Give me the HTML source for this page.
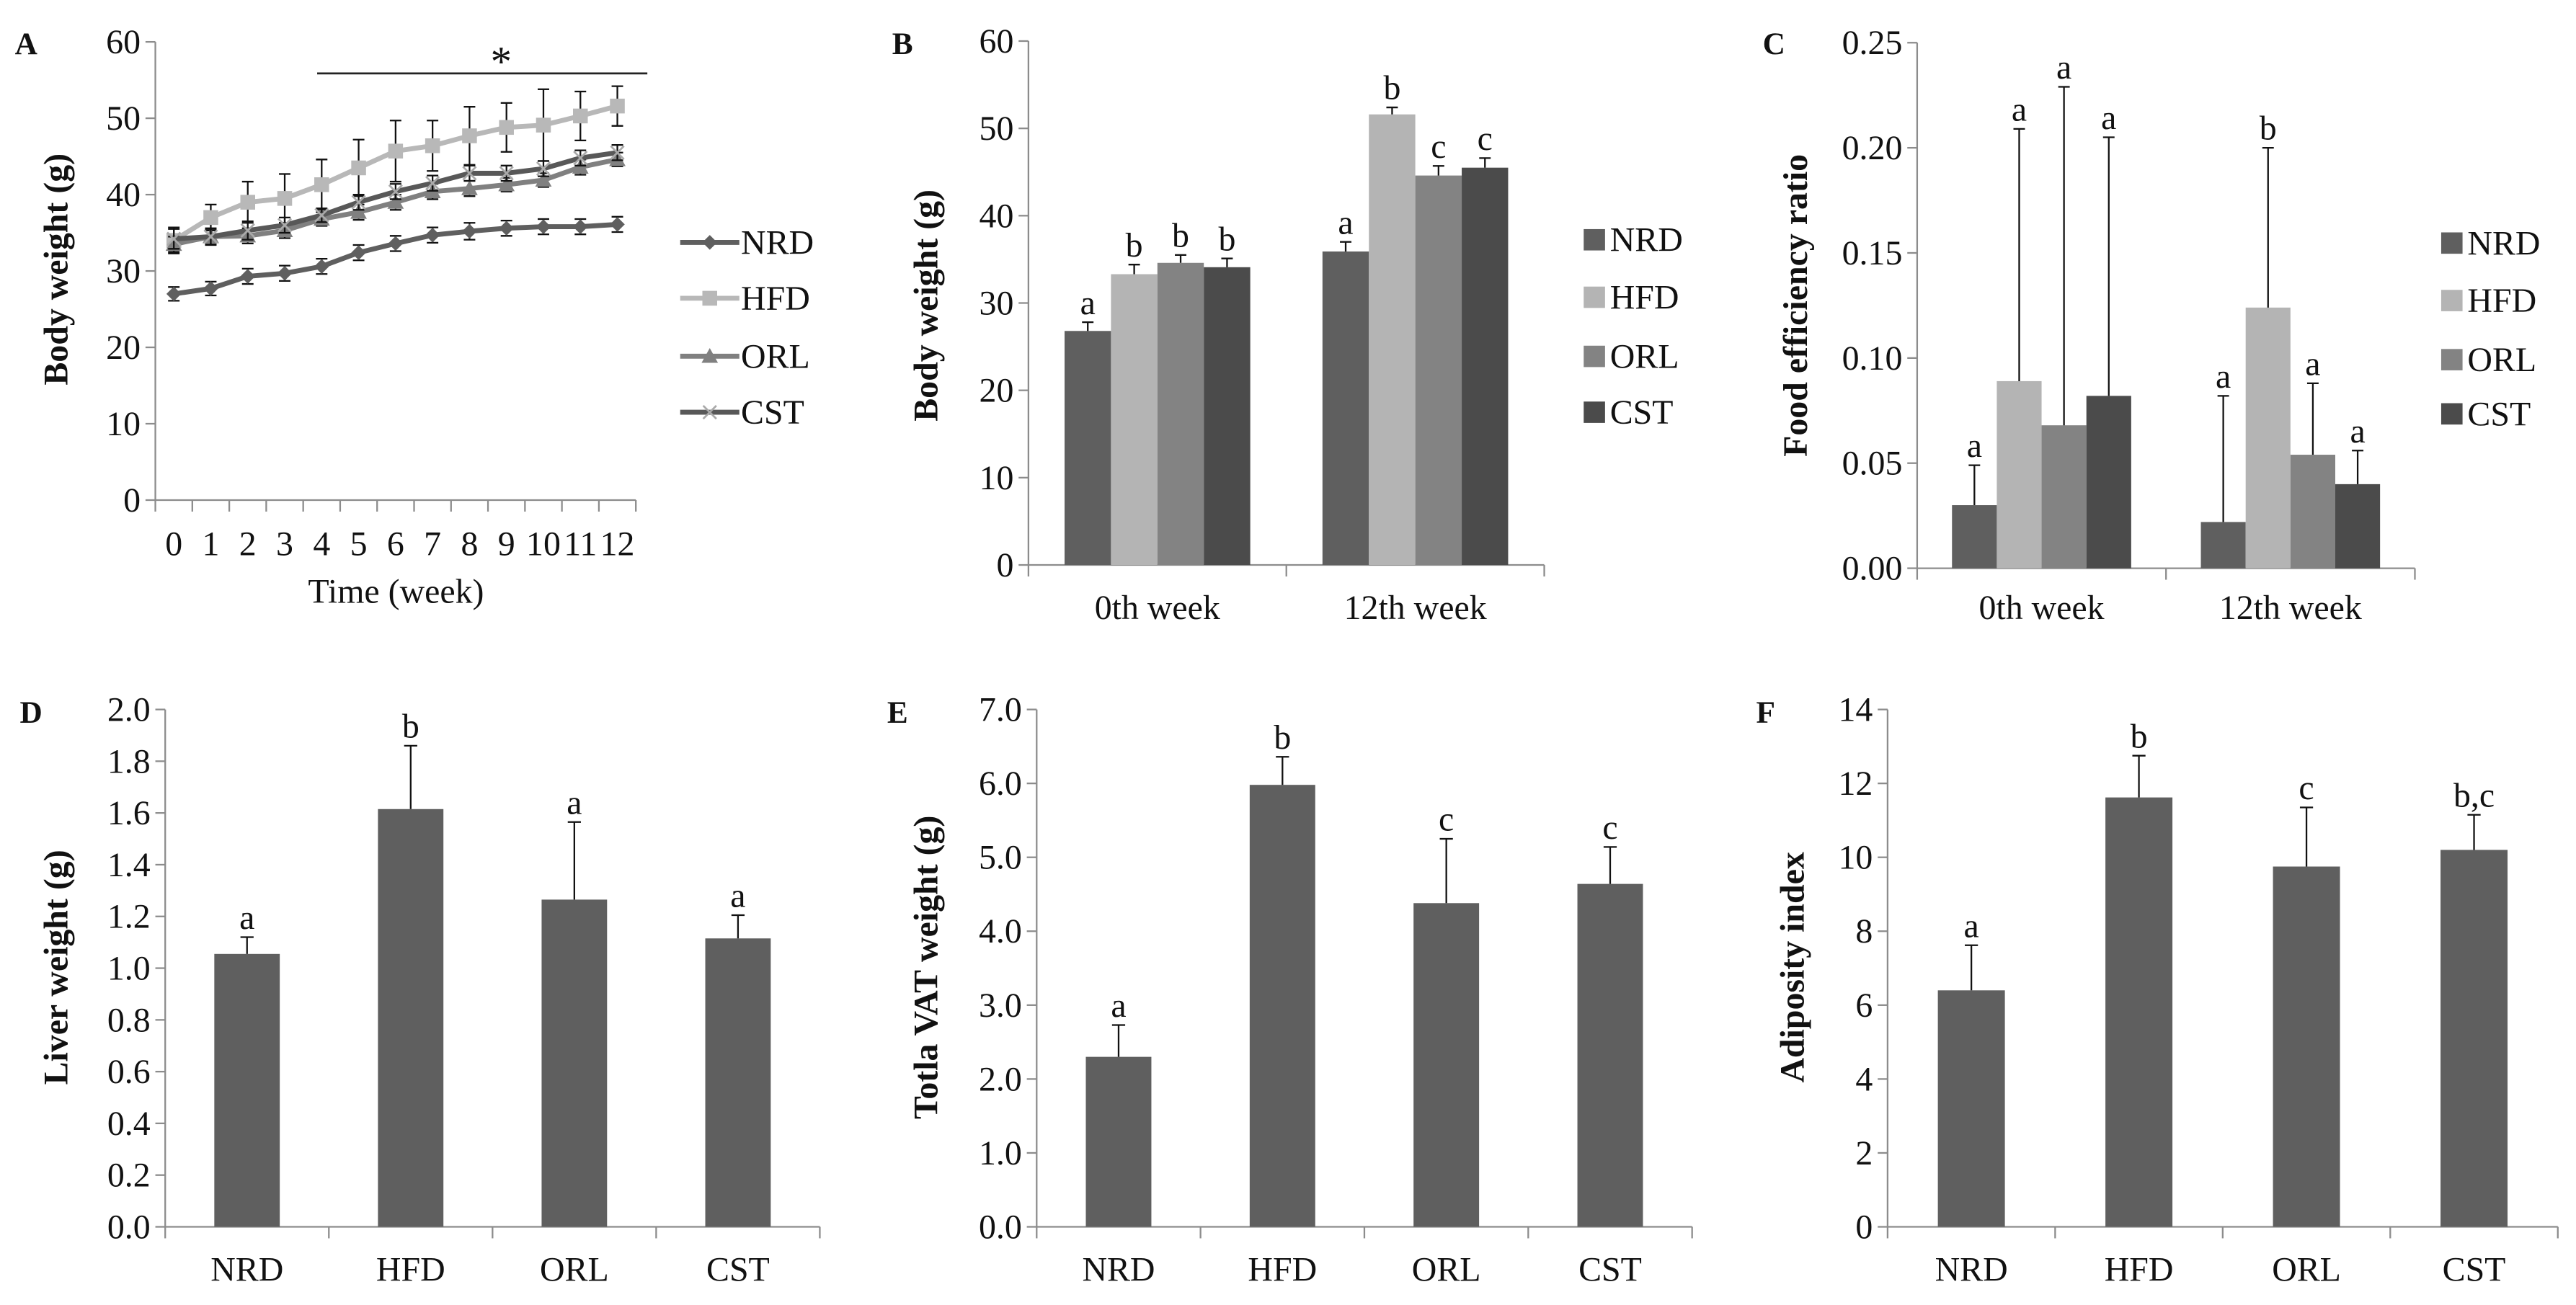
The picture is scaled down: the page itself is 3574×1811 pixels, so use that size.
<!DOCTYPE html>
<html><head><meta charset="utf-8"><style>
html,body{margin:0;padding:0;background:#fff}
svg{display:block}
text{font-family:"Liberation Serif",serif;fill:#111}
</style></head><body>
<svg id="fig" xmlns="http://www.w3.org/2000/svg" width="3574" height="1811" viewBox="0 0 1568 794.6">
<rect width="1568" height="794.6" fill="#fff"/>
</svg>
<script>
const groups = ["NRD","HFD","ORL","CST"];
const groupColors = ["#5f5f5f","#b4b4b4","#838383","#4b4b4b"];
// Panel A
const weeks = ["0","1","2","3","4","5","6","7","8","9","10","11","12"];
const aNRD = [27,27.7,29.3,29.7,30.6,32.4,33.6,34.7,35.2,35.6,35.8,35.8,36.1];
const aHFD = [34,37,39,39.5,41.3,43.5,45.7,46.4,47.7,48.8,49.1,50.3,51.6];
const aORL = [33.5,34.5,34.6,35.3,36.8,37.7,39,40.4,40.8,41.3,41.9,43.6,44.6];
const aCST = [34.2,34.5,35.3,36,37.3,39,40.4,41.5,42.8,42.8,43.4,44.8,45.5];
const aErrNRD = [0.9,0.9,1,1,1,1,1,1,1.1,1,1,1,1];
const aErrHFD = [1.7,1.7,2.7,3.2,3.3,3.7,4,3.3,3.8,3.2,4.7,3.2,2.6];
const aErrORL = [1,1,1,1,0.9,1,1,1,1,0.9,0.9,1,0.9];
const aErrCST = [1.3,1.1,1.2,1,0.9,1,1,1,1,1,1,1,1];
const aTicks = [0,10,20,30,40,50,60];
// Panel B
const bCats = ["0th week","12th week"];
const b0 = [26.8,33.3,34.6,34.1];
const b12 = [35.9,51.6,44.6,45.5];
const b0Err = [1,1.1,0.9,1];
const b12Err = [1.1,0.8,1.1,1.1];
const b0Let = ["a","b","b","b"];
const b12Let = ["a","b","c","c"];
const bTicks = [0,10,20,30,40,50,60];
// Panel C
const c0 = [0.030,0.089,0.068,0.082];
const c12 = [0.022,0.124,0.054,0.040];
const c0Err = [0.019,0.120,0.161,0.123];
const c12Err = [0.060,0.076,0.034,0.016];
const c0Let = ["a","a","a","a"];
const c12Let = ["a","b","a","a"];
const cTicks = [0,0.05,0.10,0.15,0.20,0.25];
const cTickLabels = ["0.00","0.05","0.10","0.15","0.20","0.25"];
// Panel D
const dVals = [1.055,1.615,1.265,1.115];
const dErr = [0.065,0.245,0.30,0.09];
const dLet = ["a","b","a","a"];
const dTicks = [0,0.2,0.4,0.6,0.8,1.0,1.2,1.4,1.6,1.8,2.0];
const dTickLabels = ["0.0","0.2","0.4","0.6","0.8","1.0","1.2","1.4","1.6","1.8","2.0"];
// Panel E
const eVals = [2.3,5.98,4.38,4.64];
const eErr = [0.43,0.38,0.87,0.5];
const eLet = ["a","b","c","c"];
const eTicks = [0,1,2,3,4,5,6,7];
const eTickLabels = ["0.0","1.0","2.0","3.0","4.0","5.0","6.0","7.0"];
// Panel F
const fVals = [6.4,11.62,9.75,10.2];
const fErr = [1.22,1.13,1.6,0.95];
const fLet = ["a","b","c","b,c"];
const fTicks = [0,2,4,6,8,10,12,14];

const svg = document.getElementById('fig');
const NS = "http://www.w3.org/2000/svg";
const FS = 21;
function mk(tag, attrs, parent){ const e=document.createElementNS(NS,tag); for(const k in attrs) e.setAttribute(k,attrs[k]); (parent||svg).appendChild(e); return e; }
function txt(s, x, y, size, anchor, parent, bold){ const t=mk('text',{x:x,y:y,'font-size':size,'text-anchor':anchor||'middle'},parent); if(bold) t.setAttribute('font-weight','bold'); t.textContent=s; return t; }
const AX="#8c8c8c";

function axes(g, x0, x1, yB, yT, vmax, ticks, labels, ncat, ytitle, tx, ty){
  const ys = v => yB - (v/vmax)*(yB-yT);
  mk('line',{x1:x0,y1:yT,x2:x0,y2:yB,stroke:AX,'stroke-width':1},g);
  mk('line',{x1:x0,y1:yB,x2:x1,y2:yB,stroke:AX,'stroke-width':1},g);
  ticks.forEach((v,i)=>{
    mk('line',{x1:x0-6,y1:ys(v),x2:x0,y2:ys(v),stroke:AX,'stroke-width':1},g);
    const t=txt(labels?labels[i]:String(v), x0-9, ys(v)+7, FS, 'end', g);
    
    
  });
  const cw=(x1-x0)/ncat;
  for(let i=0;i<=ncat;i++) mk('line',{x1:x0+i*cw,y1:yB,x2:x0+i*cw,y2:yB+7,stroke:AX,'stroke-width':1},g);
  const tt=txt(ytitle,0,0,FS,'middle',g,true);
  tt.setAttribute('transform',`translate(${tx},${ty}) rotate(-90)`);
  tt.setAttribute('dy','7');
  
  
  return {ys, cw};
}
function errUp(g, x, y0, y1, cap){
  mk('line',{x1:x,y1:y0,x2:x,y2:y1,stroke:'#111','stroke-width':1},g);
  mk('line',{x1:x-cap,y1:y1,x2:x+cap,y2:y1,stroke:'#111','stroke-width':1},g);
}
function panelLabel(s,x,y){ const t=txt(s,x,y,19,'start',svg,true);   }
function legendBoxes(g, x, ys){
  groups.forEach((n,i)=>{
    const le=mk('g',{},g);
    
    
    mk('rect',{x:x,y:ys[i]-6.5,width:13,height:13,fill:groupColors[i]},le);
    txt(n,x+16,ys[i]+7,FS,'start',le);
  });
}

// ---------- Panel A ----------
(function(){
  const g=mk('g',{});  
  const x0=94.5,x1=387,yB=304.5,yT=25.5;
  const {ys,cw}=axes(g,x0,x1,yB,yT,60,aTicks,null,weeks.length,'Body weight (g)',34,164);
  const xs=i=>x0+cw*(i+0.5);
  weeks.forEach((w,i)=>{const t=txt(w,xs(i),338,FS,'middle',g);  });
  const xt=txt('Time (week)',241,367,FS,'middle',g);  
  const series=[[aNRD,aErrNRD,'#5f5f5f','diamond'],[aHFD,aErrHFD,'#b8b8b8','square'],[aORL,aErrORL,'#808080','triangle'],[aCST,aErrCST,'#585858','cross']];
  const names=['nrd','hfd','orl','cst'];
  function marker(gg,type,x,y,c){
    if(type==='diamond') mk('polygon',{points:`${x},${y-4.5} ${x+4.5},${y} ${x},${y+4.5} ${x-4.5},${y}`,fill:c},gg);
    else if(type==='square') mk('rect',{x:x-4.5,y:y-4.5,width:9,height:9,fill:c},gg);
    else if(type==='triangle') mk('polygon',{points:`${x},${y-5} ${x+5},${y+4} ${x-5},${y+4}`,fill:c},gg);
    else { mk('line',{x1:x-4,y1:y-4,x2:x+4,y2:y+4,stroke:'#aaa','stroke-width':1.2},gg); mk('line',{x1:x-4,y1:y+4,x2:x+4,y2:y-4,stroke:'#aaa','stroke-width':1.2},gg); }
  }
  series.forEach((s,si)=>{
    const sg=mk('g',{},g);  
    s[0].forEach((v,i)=>{
      mk('line',{x1:xs(i),y1:ys(v+s[1][i]),x2:xs(i),y2:ys(v-s[1][i]),stroke:'#111','stroke-width':1},sg);
      mk('line',{x1:xs(i)-3.5,y1:ys(v+s[1][i]),x2:xs(i)+3.5,y2:ys(v+s[1][i]),stroke:'#111','stroke-width':1},sg);
      mk('line',{x1:xs(i)-3.5,y1:ys(v-s[1][i]),x2:xs(i)+3.5,y2:ys(v-s[1][i]),stroke:'#111','stroke-width':1},sg);
    });
    mk('polyline',{points:s[0].map((v,i)=>xs(i)+','+ys(v)).join(' '),fill:'none',stroke:s[2],'stroke-width':3},sg);
    s[0].forEach((v,i)=>marker(sg,s[3],xs(i),ys(v),s[2]));
  });
  const lys=[147.6,181.6,216.9,251];
  series.forEach((s,i)=>{
    const le=mk('g',{},g);  
    mk('line',{x1:414,y1:lys[i],x2:450,y2:lys[i],stroke:s[2],'stroke-width':3},le);
    marker(le,s[3],432,lys[i],s[2]);
    txt(groups[i],451,lys[i]+7,FS,'start',le);
  });
  const sb=mk('line',{x1:193,y1:44.7,x2:394,y2:44.7,stroke:'#222','stroke-width':1.2},g);
   
  const st=txt('*',305,46,26,'middle',g);  
})();
panelLabel('A',9,33);

// ---------- Grouped bar panels (B, C) ----------
function grouped(name,x0,x1,yB,yT,vmax,ticks,labels,d0,d12,e0,e12,l0,l12,title,tx,ty,legX,legY){
  const g=mk('g',{});  
  const {ys,cw}=axes(g,x0,x1,yB,yT,vmax,ticks,labels,2,title,tx,ty);
  const bw=cw*0.72/4;
  [[d0,e0,l0],[d12,e12,l12]].forEach((set,ci)=>{
    const cx0=x0+cw*ci+cw*0.14;
    set[0].forEach((v,i)=>{
      const bx=cx0+bw*i;
      const r=mk('rect',{x:bx,y:ys(v),width:bw,height:yB-ys(v),fill:groupColors[i]},g);
      
      
      errUp(g,bx+bw/2,ys(v),ys(v+set[1][i]),3.5);
      txt(set[2][i],bx+bw/2,ys(v+set[1][i])-5,FS,'middle',g);
    });
    const t=txt(bCats[ci],x0+cw*(ci+0.5),377,FS,'middle',g);
     
  });
  legendBoxes(g,legX,legY);
}
grouped('panel-b-bar-chart',626,940,344,25,60,bTicks,null,b0,b12,b0Err,b12Err,b0Let,b12Let,'Body weight (g)',563.6,186,964,[146,181,217,251]);
panelLabel('B',543,33);
grouped('panel-c-bar-chart',1167,1470,346,26,0.25,cTicks,cTickLabels,c0,c12,c0Err,c12Err,c0Let,c12Let,'Food efficiency ratio',1093,186,1486,[148,183,219,252]);
panelLabel('C',1073,33);

// ---------- Simple bar panels (D, E, F) ----------
function simple(name,x0,x1,yB,yT,vmax,ticks,labels,vals,errs,lets,title,tx,ty){
  const g=mk('g',{});  
  const {ys,cw}=axes(g,x0,x1,yB,yT,vmax,ticks,labels,4,title,tx,ty);
  const bw=cw*0.4;
  vals.forEach((v,i)=>{
    const cx=x0+cw*(i+0.5);
    const r=mk('rect',{x:cx-bw/2,y:ys(v),width:bw,height:yB-ys(v),fill:'#5f5f5f'},g);
    
    
    errUp(g,cx,ys(v),ys(v+errs[i]),4);
    txt(lets[i],cx,ys(v+errs[i])-5,FS,'middle',g);
    const t=txt(groups[i],cx,780,FS,'middle',g);
     
  });
}
simple('panel-d-bar-chart',100.5,499,747,432,2.0,dTicks,dTickLabels,dVals,dErr,dLet,'Liver weight (g)',34,589);
panelLabel('D',12,440);
simple('panel-e-bar-chart',631,1030,747,432,7,eTicks,eTickLabels,eVals,eErr,eLet,'Totla VAT weight (g)',563.6,589);
panelLabel('E',540,440);
simple('panel-f-bar-chart',1149,1557,747,432,14,fTicks,null,fVals,fErr,fLet,'Adiposity index',1091,589);
panelLabel('F',1069,440);
</script>
</body></html>
